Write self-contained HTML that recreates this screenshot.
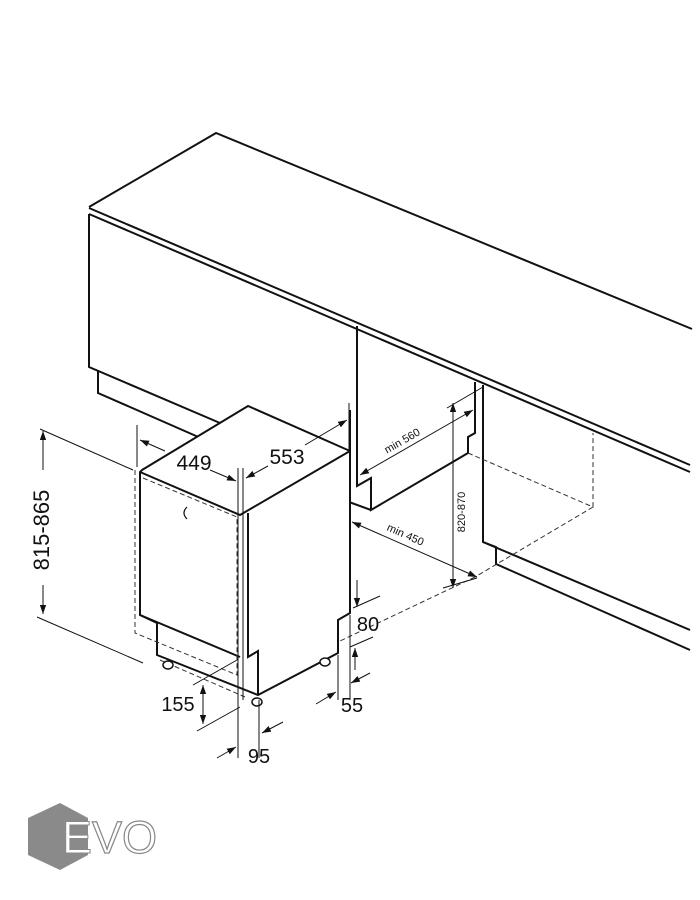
<!DOCTYPE html>
<html><head><meta charset="utf-8"><style>html,body{margin:0;padding:0;background:#fff}svg{display:block}</style></head>
<body>
<svg width="700" height="900" viewBox="0 0 700 900" xmlns="http://www.w3.org/2000/svg" font-family="Liberation Sans, sans-serif">
<defs>
<marker id="a" viewBox="0 0 10 10" refX="10" refY="5" markerWidth="9" markerHeight="9" orient="auto-start-reverse" markerUnits="userSpaceOnUse"><path d="M0,1.5 L10,5 L0,8.5 z" fill="#111"/></marker>
</defs>
<g fill="none" stroke="#111" stroke-width="2" stroke-linejoin="miter">
<polyline points="89,207 216,133 692,329"/>
<line x1="89" y1="208" x2="690" y2="465"/>
<line x1="89" y1="214" x2="690" y2="472"/>
<polyline points="89,214 89,367 220,423"/>
<polyline points="98,370 98,393 228,450"/>
<polyline points="357,326 357,486 371,478 371,510 468,453 468,437 475,433 475,382"/>
<line x1="349" y1="502" x2="371" y2="510"/>
<polyline points="483,385 483,542 690,630"/>
<polyline points="483,542 496,547 496,564 690,650"/>
</g>
<g fill="none" stroke="#333" stroke-width="1" stroke-dasharray="5,3">
<polyline points="468,453 593,507 593,433"/>
<line x1="593" y1="507" x2="475" y2="577"/>
<line x1="475" y1="577" x2="340" y2="641"/>
</g>
<!-- dishwasher body (opaque) -->
<g fill="#fff" stroke="#111" stroke-width="2" stroke-linejoin="miter">
<polygon points="142,470 248,406 350,451 350,613 338,620 338,653 258,695 157,655 157,623 140,615 140,472"/>
</g>
<g fill="none" stroke="#111" stroke-width="2">
<polyline points="140,472 240,515 350,451"/>
<line x1="140" y1="615" x2="240" y2="657"/>
<polyline points="248,513 248,657 258,651 258,695"/>
<line x1="350" y1="410" x2="350" y2="451"/>
</g>
<g fill="none" stroke="#333" stroke-width="1" stroke-dasharray="5,3">
<polyline points="135,470 135,633 237,675 237,517"/>
<line x1="143" y1="478" x2="237" y2="517"/>
<line x1="160" y1="660" x2="245" y2="697"/>
</g>
<path d="M187,507 q-6,6 0,12" fill="none" stroke="#111" stroke-width="1.2"/>
<g fill="#fff" stroke="#111" stroke-width="1.5">
<ellipse cx="168" cy="665" rx="5" ry="4"/>
<ellipse cx="257" cy="702" rx="5" ry="4"/>
<ellipse cx="325" cy="662" rx="5" ry="4"/>
</g>
<g fill="none" stroke="#111" stroke-width="1">
<line x1="40" y1="429" x2="133" y2="470"/>
<line x1="37" y1="617" x2="143" y2="663"/>
<line x1="137" y1="425" x2="137" y2="467"/>
<line x1="349" y1="403" x2="349" y2="450"/>
<line x1="238" y1="468" x2="238" y2="758"/>
<line x1="243" y1="468" x2="243" y2="700"/>
<line x1="259" y1="700" x2="259" y2="758"/>
<line x1="193" y1="685" x2="237" y2="660"/>
<line x1="197" y1="731" x2="240" y2="707"/>
<line x1="338" y1="655" x2="338" y2="700"/>
<line x1="350" y1="615" x2="350" y2="700"/>
<line x1="353" y1="608" x2="380" y2="596"/>
<line x1="350" y1="647" x2="373" y2="637"/>
<line x1="447" y1="408" x2="483" y2="387"/>
<line x1="443" y1="588" x2="477" y2="578"/>
<line x1="43" y1="431" x2="43" y2="470" marker-start="url(#a)"/>
<line x1="43" y1="585" x2="43" y2="614" marker-end="url(#a)"/>
<line x1="140" y1="440" x2="165" y2="451" marker-start="url(#a)"/>
<line x1="210" y1="470" x2="236" y2="481" marker-end="url(#a)"/>
<line x1="246" y1="478" x2="268" y2="466" marker-start="url(#a)"/>
<line x1="305" y1="445" x2="347" y2="420" marker-end="url(#a)"/>
<line x1="203" y1="685" x2="203" y2="724" marker-start="url(#a)" marker-end="url(#a)"/>
<line x1="217" y1="758" x2="236" y2="747" marker-end="url(#a)"/>
<line x1="283" y1="722" x2="262" y2="733" marker-end="url(#a)"/>
<line x1="316" y1="704" x2="336" y2="692" marker-end="url(#a)"/>
<line x1="370" y1="673" x2="351" y2="683" marker-end="url(#a)"/>
<line x1="357" y1="580" x2="357" y2="607" marker-end="url(#a)"/>
<line x1="355" y1="670" x2="355" y2="648" marker-end="url(#a)"/>
<line x1="360" y1="475" x2="473" y2="410" marker-start="url(#a)" marker-end="url(#a)"/>
<line x1="453" y1="403" x2="453" y2="588" marker-start="url(#a)" marker-end="url(#a)"/>
<line x1="352" y1="522" x2="477" y2="577" marker-start="url(#a)" marker-end="url(#a)"/>
</g>
<g fill="#111">
<text x="43" y="530" font-size="22" text-anchor="middle" dominant-baseline="middle" transform="rotate(-90 43 530)">815-865</text>
<text x="194" y="470" font-size="21" text-anchor="middle">449</text>
<text x="287" y="464" font-size="21" text-anchor="middle">553</text>
<text x="178" y="711" font-size="20" text-anchor="middle">155</text>
<text x="259" y="763" font-size="20" text-anchor="middle">95</text>
<text x="352" y="712" font-size="20" text-anchor="middle">55</text>
<text x="368" y="631" font-size="20" text-anchor="middle">80</text>
<text x="404" y="444" font-size="11" text-anchor="middle" transform="rotate(-30 404 444)">min 560</text>
<text x="404" y="538" font-size="11" text-anchor="middle" transform="rotate(24 404 538)">min 450</text>
<text x="462" y="512" font-size="11" text-anchor="middle" dominant-baseline="middle" transform="rotate(-90 462 512)">820-870</text>
</g>
<polygon points="60,803 88,818 88,855 60,870 28,855 28,818" fill="#8a8a8a"/>
<text x="62" y="853" font-size="45" fill="#fff" stroke="#8a8a8a" stroke-width="1">E</text>
<text x="92" y="853" font-size="45" fill="#fff" stroke="#888" stroke-width="1.2">VO</text>
</svg>
</body></html>
